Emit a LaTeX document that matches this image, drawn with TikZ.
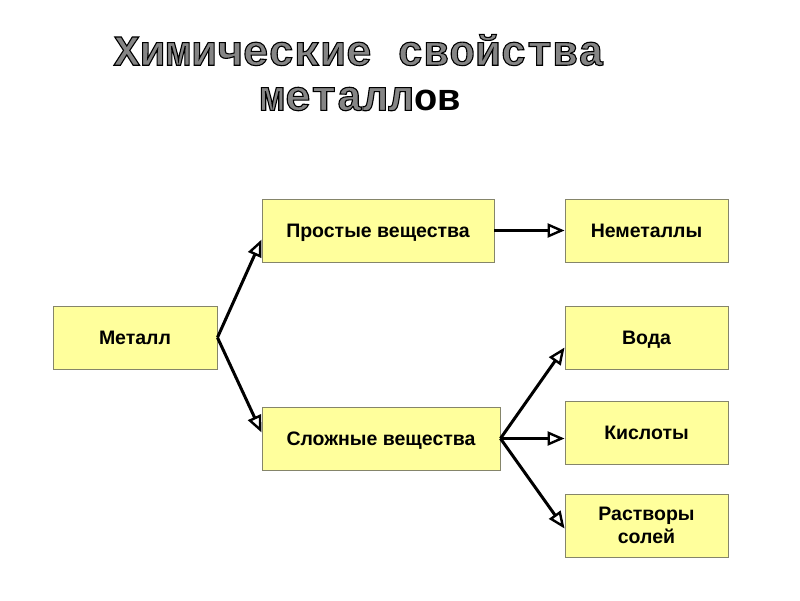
\documentclass[tikz,border=0pt]{standalone}
\usepackage{fontspec}
\setmainfont{Liberation Sans}
\newfontfamily\titlemono{Liberation Mono}
\usetikzlibrary{arrows.meta,calc}
\definecolor{boxfill}{HTML}{FFFF9C}
\definecolor{boxline}{HTML}{85856A}
\newcommand{\outlinetext}[1]{\special{pdf:literal direct 2 Tr 1.1 w 0.52 g 0 G}#1\special{pdf:literal direct 0 Tr 0 g 0 G}}
\tikzset{
  box/.style={draw=boxline, fill=boxfill, line width=0.9pt, minimum height=63pt,
    font=\fontsize{19.5}{22.5}\selectfont\bfseries, inner sep=0pt,
    text height=14pt, text depth=0pt},
  multibox/.style={box, align=center, text height=, text depth=},
  conn/.style={line width=3pt, -{Triangle[open, length=17pt, width=14pt, line width=2.4pt]}},
  ttl/.style={font=\titlemono\fontsize{43}{48}\selectfont\bfseries},
}
\begin{document}
\begin{tikzpicture}[x=1pt, y=-1pt]
\useasboundingbox (0,0) rectangle (800,600);
\node[ttl] (t1) at (359,50) {\outlinetext{Химические свойства}};
\node[ttl] (t2) at (360,99) {\outlinetext{металл}{\fontspec{Liberation Sans}\fontsize{38}{44}\selectfont\bfseries ов}};

\node[box, minimum width=164pt] (metal) at (135,337.5) {Металл};
\node[box, minimum width=232pt] (prost) at (378,230.5) {Простые вещества};
\node[box, minimum width=238pt] (slozh) at (381,438.5) {Сложные вещества};
\node[box, minimum width=163pt] (nemet) at (646.5,230.5) {Неметаллы};
\node[box, minimum width=163pt] (voda) at (646.5,337.5) {Вода};
\node[box, minimum width=163pt] (kisl) at (646.5,432.5) {Кислоты};
\node[multibox, minimum width=163pt] (rastv) at (646.5,525.5) {Растворы\\солей};

\draw[conn] (metal.east) -- ([yshift=-9pt]prost.west);
\draw[conn] (metal.east) -- ([yshift=6pt]slozh.west);
\draw[conn] (prost.east) -- (nemet.west);
\draw[conn] (slozh.east) -- ([yshift=-10pt]voda.west);
\draw[conn] (slozh.east) -- ([yshift=-6pt]kisl.west);
\draw[conn] (slozh.east) -- ([yshift=-3pt]rastv.west);
\end{tikzpicture}
\end{document}
